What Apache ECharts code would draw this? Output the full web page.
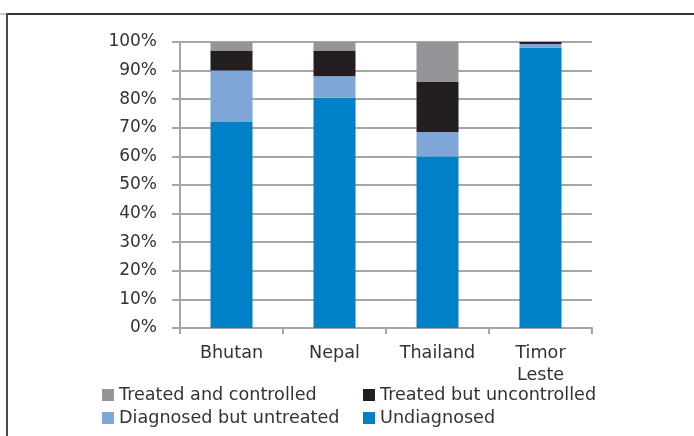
<!DOCTYPE html>
<html>
<head>
<meta charset="utf-8">
<script src="https://cdn.jsdelivr.net/npm/echarts@6/dist/echarts.min.js"></script>
<style>
  html, body { margin: 0; padding: 0; background: #fff; }
  #chart { width: 694px; height: 436px; }
</style>
</head>
<body>
<div id="chart"></div>
<script>
// Hypertension care cascade by country (share of people, %)
const countries = ['Bhutan', 'Nepal', 'Thailand', 'Timor\nLeste'];
const undiagnosed = [72, 80.5, 60, 98];
const diagnosedUntreated = [18, 7.5, 8.5, 1.3];
const treatedUncontrolled = [7, 9, 17.5, 0.7];
const treatedControlled = [3, 3, 14, 0];
const yTicks = [0, 10, 20, 30, 40, 50, 60, 70, 80, 90, 100];

const FONT = 'DejaVu Sans';
const TEXT = '#333333';
const SIZE = 17;
const LABEL_SIZE = 17.6;

const seriesDefs = [
  { name: 'Undiagnosed', data: undiagnosed, color: '#0080c6' },
  { name: 'Diagnosed but untreated', data: diagnosedUntreated, color: '#7ea7d8' },
  { name: 'Treated but uncontrolled', data: treatedUncontrolled, color: '#231f20' },
  { name: 'Treated and controlled', data: treatedControlled, color: '#939598' }
];

// one legend entry per slot so the two-column layout lines up
const legendSlots = [
  { name: 'Treated and controlled', left: 102, top: 386 },
  { name: 'Treated but uncontrolled', left: 363, top: 386 },
  { name: 'Diagnosed but untreated', left: 102, top: 409 },
  { name: 'Undiagnosed', left: 363, top: 409 }
];

const chart = echarts.init(document.getElementById('chart'), null, { renderer: 'canvas' });

chart.setOption({
  animation: false,
  backgroundColor: '#ffffff',
  grid: { left: 180, right: 102, top: 42, bottom: 108 },
  xAxis: {
    type: 'category',
    data: countries,
    axisLine: { lineStyle: { color: '#a6a6a6', width: 2 } },
    axisTick: { show: true, length: 6, lineStyle: { color: '#a6a6a6', width: 2 } },
    axisLabel: { color: TEXT, fontFamily: FONT, fontSize: LABEL_SIZE, margin: 14, lineHeight: 22 }
  },
  yAxis: {
    type: 'value',
    min: yTicks[0],
    max: yTicks[yTicks.length - 1],
    interval: 10,
    axisLine: { show: true, lineStyle: { color: '#a6a6a6', width: 2 } },
    axisTick: { show: true, length: 8, lineStyle: { color: '#a6a6a6', width: 2 } },
    splitLine: { lineStyle: { color: '#a6a6a6', width: 2 } },
    axisLabel: {
      color: TEXT, fontFamily: FONT, fontSize: SIZE, margin: 23,
      formatter: v => v + '%'
    }
  },
  legend: legendSlots.map(s => ({
    data: [s.name],
    left: s.left,
    top: s.top,
    itemWidth: 12,
    itemHeight: 12,
    itemGap: 0,
    padding: 0,
    icon: 'rect',
    textStyle: { color: TEXT, fontFamily: FONT, fontSize: LABEL_SIZE, padding: [0, 0, 0, 0] },
    selectedMode: false
  })),
  series: seriesDefs.map(s => ({
    name: s.name,
    type: 'bar',
    stack: 'total',
    data: s.data,
    barWidth: 42,
    itemStyle: { color: s.color }
  })),
  graphic: [
    { type: 'line', shape: { x1: 7, y1: 14, x2: 694, y2: 14 }, style: { stroke: '#333333', lineWidth: 2 } },
    { type: 'line', shape: { x1: 7, y1: 13, x2: 7, y2: 436 }, style: { stroke: '#4a4a4a', lineWidth: 2 } },
    { type: 'line', shape: { x1: 0, y1: 14, x2: 6, y2: 14 }, style: { stroke: '#9a9a9a', lineWidth: 1 } }
  ]
});
</script>
</body>
</html>
